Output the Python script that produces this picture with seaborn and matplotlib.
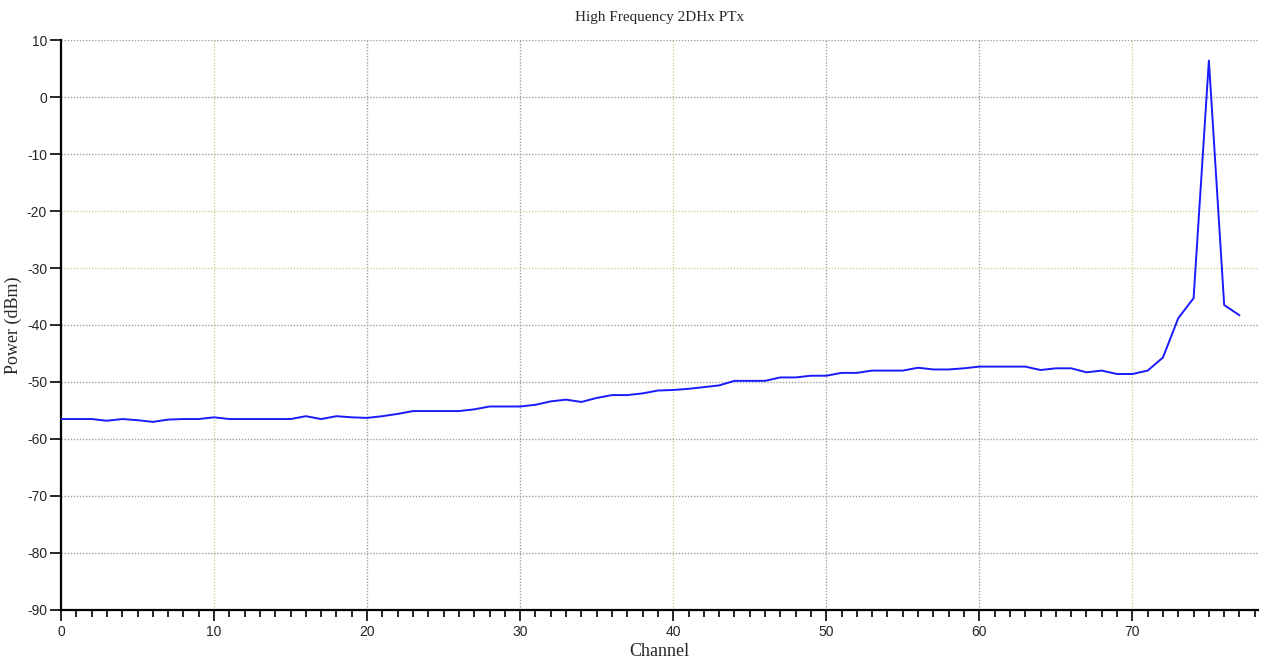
import numpy as np
import pandas as pd
import matplotlib
matplotlib.use("Agg")
import matplotlib.pyplot as plt
from matplotlib.ticker import MultipleLocator
import seaborn as sns

# Measured output power per channel
channels = list(range(78))
power_dbm = [
    -56.5, -56.5, -56.5, -56.8, -56.5, -56.7, -57.0, -56.6, -56.5, -56.5,  # 0-9
    -56.2, -56.5, -56.5, -56.5, -56.5, -56.5, -56.0, -56.5, -56.0, -56.2,  # 10-19
    -56.3, -56.0, -55.6, -55.1, -55.1, -55.1, -55.1, -54.8, -54.3, -54.3,  # 20-29
    -54.3, -54.0, -53.4, -53.1, -53.5, -52.8, -52.3, -52.3, -52.0, -51.5,  # 30-39
    -51.4, -51.2, -50.9, -50.6, -49.8, -49.8, -49.8, -49.2, -49.2, -48.9,  # 40-49
    -48.9, -48.4, -48.4, -48.0, -48.0, -48.0, -47.5, -47.8, -47.8, -47.6,  # 50-59
    -47.3, -47.3, -47.3, -47.3, -47.9, -47.6, -47.6, -48.3, -48.0, -48.6,  # 60-69
    -48.6, -48.0, -45.7, -38.8, -35.3, 6.4, -36.5, -38.3,                  # 70-77
]

title = "High Frequency 2DHx PTx"
x_label = "Channel"
y_label = "Power (dBm)"
x_ticks = [0, 10, 20, 30, 40, 50, 60, 70]
y_ticks = [10, 0, -10, -20, -30, -40, -50, -60, -70, -80, -90]

df = pd.DataFrame({"Channel": channels, "Power": power_dbm})

sns.set_style("white")
plt.rcParams["font.family"] = ["Liberation Sans", "DejaVu Sans"]
plt.rcParams["axes.unicode_minus"] = False

fig = plt.figure(figsize=(12.68, 6.67), dpi=100)
ax = fig.add_axes([0.0481, 0.0855, 0.9439, 0.8545])

# Dotted grid, a few lines in a pale olive tone
grid_grey = "#a0a0a0"
grid_olive = "#d2d29c"
olive_x = {10, 40, 70}
olive_y = {-20, -30}
for xv in x_ticks[1:]:
    ax.axvline(xv, color=grid_olive if xv in olive_x else grid_grey,
               linestyle=(0, (1, 1.2)), linewidth=1.0, zorder=0)
for yv in y_ticks[:-1]:
    ax.axhline(yv, color=grid_olive if yv in olive_y else grid_grey,
               linestyle=(0, (1, 1.2)), linewidth=1.0, zorder=0)

sns.lineplot(data=df, x="Channel", y="Power", ax=ax, color="#1a1aff",
             linewidth=1.4, zorder=3)

ax.set_xlim(0, 78.2)
ax.set_ylim(-90, 10)
ax.set_xticks(x_ticks)
ax.set_yticks(y_ticks)
ax.xaxis.set_minor_locator(MultipleLocator(1))

for side in ("top", "right"):
    ax.spines[side].set_visible(False)
for side in ("left", "bottom"):
    ax.spines[side].set_color("black")
    ax.spines[side].set_linewidth(1.6)

ax.tick_params(axis="x", which="major", direction="out", length=8, width=1.4,
               labelsize=10, pad=3, bottom=True)
ax.tick_params(axis="x", which="minor", direction="out", length=5, width=1.4,
               bottom=True)
ax.tick_params(axis="y", which="major", direction="out", length=8, width=1.4,
               labelsize=10, pad=2, left=True)

serif = ["Liberation Serif", "DejaVu Serif"]
ax.set_title(title, fontsize=11, family=serif, pad=14)
ax.set_xlabel(x_label, fontsize=13, family=serif, labelpad=3)
ax.set_ylabel(y_label, fontsize=13, family=serif)
ax.yaxis.set_label_coords(-0.0326, 0.5)

fig.savefig("out.png", dpi=100, facecolor="white")
